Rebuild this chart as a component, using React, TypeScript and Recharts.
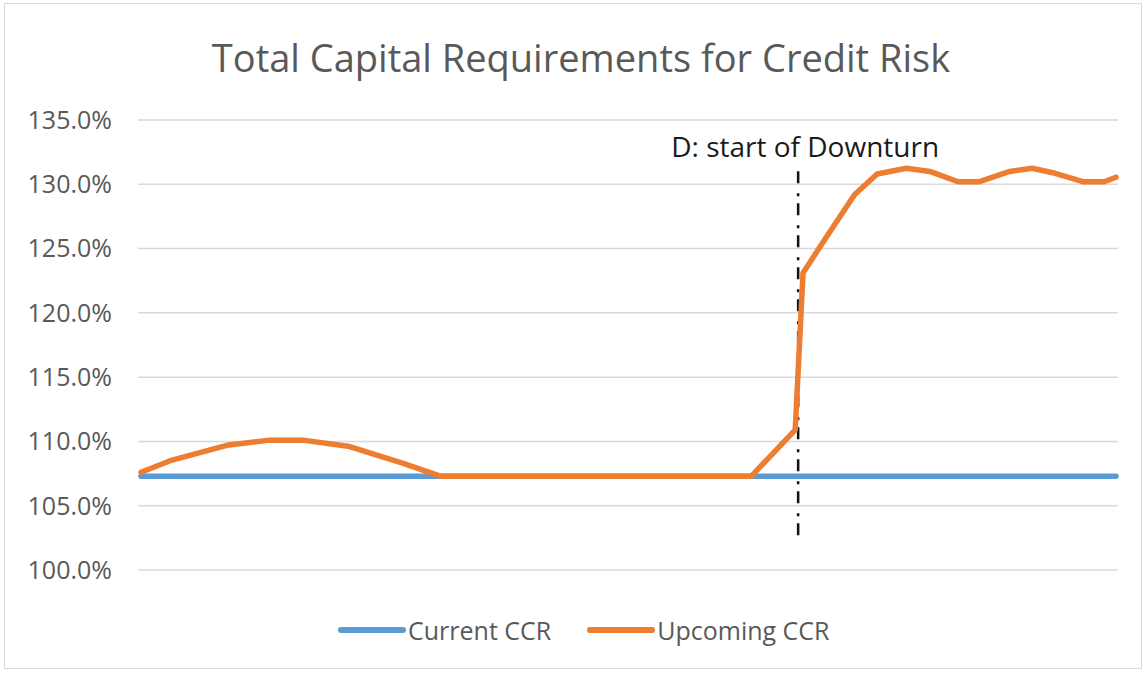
import { LineChart, Line, XAxis, YAxis, CartesianGrid, ReferenceLine } from "recharts";

// x is the position along the (unlabelled) time axis, 0 = first period, 100 = last
const upcomingPeriods = [0, 3, 8.8, 13.2, 16.6, 21.4, 26.9, 30.7, 62.6, 67.1, 67.9, 70.3, 73.2, 75.5, 78.5, 80.9, 83.8, 86.0, 89.1, 91.4, 93.5, 96.6, 98.8, 100];
const upcomingValues = [107.6, 108.5, 109.7, 110.1, 110.1, 109.6, 108.3, 107.3, 107.3, 110.9, 123.1, 125.9, 129.2, 130.8, 131.25, 131.0, 130.2, 130.2, 131.0, 131.25, 130.9, 130.2, 130.2, 130.55];

const currentPeriods = [0, 100];
const currentValues = [107.3, 107.3];

const yTicks = [100, 105, 110, 115, 120, 125, 130, 135];
const downturnPeriod = 67.4;
const downturnSpan = [102.7, 131.1];

const upcoming = upcomingPeriods.map((p, i) => ({ period: p, value: upcomingValues[i] }));
const current = currentPeriods.map((p, i) => ({ period: p, value: currentValues[i] }));

const FONT = "'Open Sans', sans-serif";
const GREY_TEXT = "#595959";

const DownturnLabel = ({ viewBox }: any) => {
  if (!viewBox) return null;
  return (
    <text x={viewBox.x + 7} y={viewBox.y - 13} textAnchor="middle" fill="#1a1a1a" fontSize={28} fontFamily={FONT}>
      D: start of Downturn
    </text>
  );
};

export default function App() {
  return (
    <div style={{ position: "absolute", left: 0, top: 0, width: 1146, height: 673, background: "#fff", fontFamily: FONT }}>
      <div style={{ position: "absolute", left: 4, top: 3, width: 1136, height: 664, border: "1px solid #d9d9d9" }} />
      <div style={{ position: "absolute", left: 0, top: 31, width: 1162, textAlign: "center", fontSize: 38, color: GREY_TEXT }}>
        Total Capital Requirements for Credit Risk
      </div>
      <div style={{ position: "absolute", left: 0, top: 0 }}>
        <LineChart width={1146} height={673} margin={{ top: 120, right: 28, bottom: 103, left: 18 }}>
          <CartesianGrid horizontal vertical={false} stroke="#d9d9d9" strokeWidth={1.5} />
          <XAxis type="number" dataKey="period" domain={[0, 100]} hide padding={{ left: 3, right: 2 }} />
          <YAxis
            type="number"
            domain={[100, 135]}
            ticks={yTicks}
            width={120}
            axisLine={false}
            tickLine={false}
            tickMargin={20}
            tickFormatter={(v) => `${v.toFixed(1)}%`}
            tick={{ fill: GREY_TEXT, fontSize: 25, fontFamily: FONT }}
          />
          <Line
            data={current}
            dataKey="value"
            name="Current CCR"
            type="linear"
            stroke="#5B9BD5"
            strokeWidth={5.5}
            strokeLinecap="round"
            dot={false}
            isAnimationActive={false}
          />
          <ReferenceLine
            segment={[{ x: downturnPeriod, y: downturnSpan[0] }, { x: downturnPeriod, y: downturnSpan[1] }]}
            stroke="#111"
            strokeWidth={2.5}
            strokeDasharray="12 7 3 10"
            label={<DownturnLabel />}
          />
          <Line
            data={upcoming}
            dataKey="value"
            name="Upcoming CCR"
            type="linear"
            stroke="#ED7D31"
            strokeWidth={5.5}
            strokeLinecap="round"
            strokeLinejoin="round"
            dot={false}
            isAnimationActive={false}
          />
        </LineChart>
      </div>
      <div style={{ position: "absolute", top: 613, left: 338, display: "flex", alignItems: "center", fontSize: 25, color: GREY_TEXT }}>
        <span style={{ display: "inline-block", width: 68, height: 6, borderRadius: 3, background: "#5B9BD5" }} />
        <span style={{ marginLeft: 2 }}>Current CCR</span>
        <span style={{ display: "inline-block", width: 68, height: 6, borderRadius: 3, background: "#ED7D31", marginLeft: 36 }} />
        <span style={{ marginLeft: 2 }}>Upcoming CCR</span>
      </div>
    </div>
  );
}
